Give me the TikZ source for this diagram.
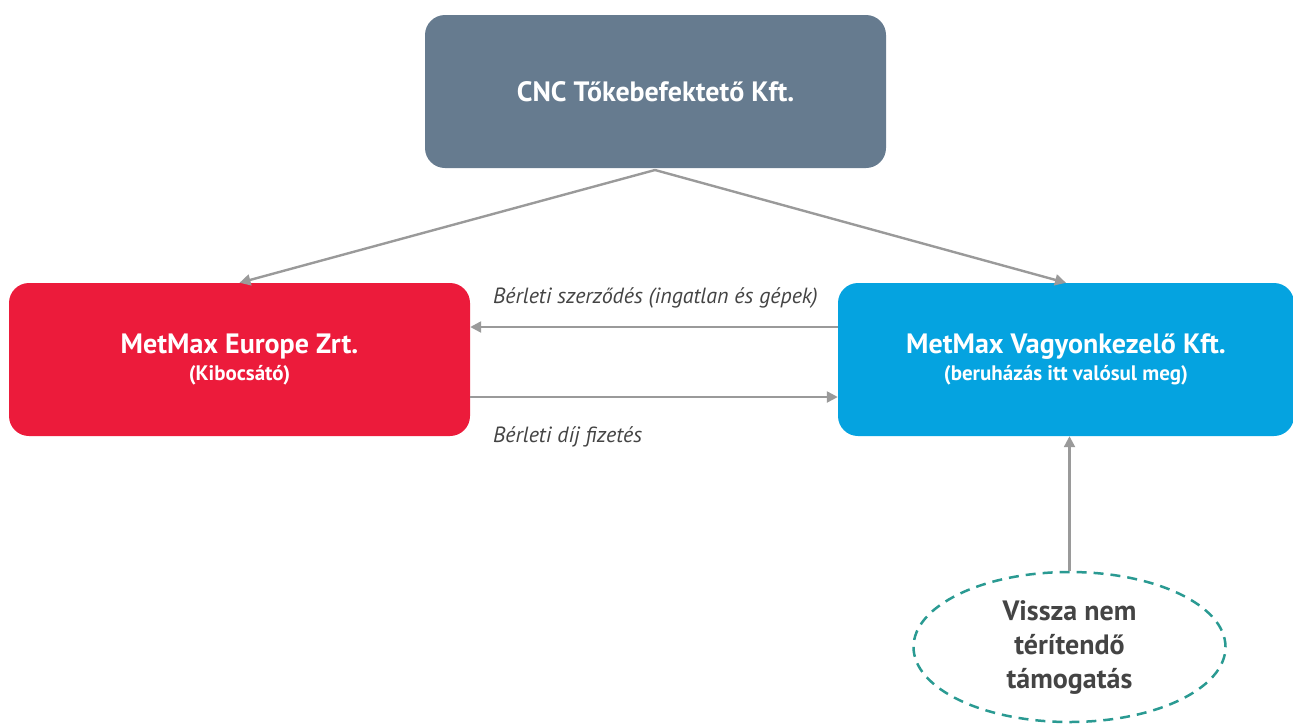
\documentclass[tikz,border=0pt]{standalone}
\usepackage{fontspec}
\setmainfont{PT Sans}
\usetikzlibrary{shapes.geometric,arrows.meta}
\definecolor{slate}{HTML}{667B8F}
\definecolor{mred}{HTML}{EC1B3B}
\definecolor{mblue}{HTML}{05A3E0}
\definecolor{teal}{HTML}{2A9A92}
\definecolor{arrowgray}{HTML}{9A9A9A}
\definecolor{txtgray}{HTML}{444444}
\tikzset{
  box/.style={rounded corners=20pt, inner sep=0pt, text=white, align=center},
  conn/.style={draw=arrowgray, line width=2.4pt, -{Triangle[length=11pt,width=11pt]}},
  lbl/.style={anchor=west, text=txtgray, font=\fontsize{22}{26}\selectfont\itshape, inner sep=0pt},
}
\newcommand{\boxtitle}{\fontsize{28}{30}\selectfont\bfseries}
\newcommand{\boxsub}{\fontsize{21}{28}\selectfont\bfseries}
\begin{document}
\begin{tikzpicture}[x=1pt,y=-1pt]
\useasboundingbox (0,0) rectangle (1293,724);
\node[box, fill=slate, minimum width=461pt, minimum height=153pt] (cnc) at (655.5,91.5)
  {\boxtitle CNC Tőkebefektető Kft.};
\node[box, fill=mred, minimum width=461pt, minimum height=153pt] (eur) at (239.5,359.5)
  {\boxtitle MetMax Europe Zrt.\\[5pt]\boxsub (Kibocsátó)};
\node[box, fill=mblue, minimum width=456pt, minimum height=153pt] (vag) at (1066,359.5)
  {\boxtitle MetMax Vagyonkezelő Kft.\\[5pt]\boxsub (beruházás itt valósul meg)};
\node[ellipse, draw=teal, dashed, dash pattern=on 10pt off 7pt, line width=2.5pt, minimum width=312pt, minimum height=150pt, align=center, text=txtgray, font=\fontsize{28}{34}\selectfont\bfseries] (tam) at (1069.5,647)
  {Vissza nem\\térítendő\\támogatás};
\coordinate (top) at (655,170);
\draw[conn] (top) -- (eur.north);
\draw[conn] (top) -- (vag.north);
\draw[conn] (vag.west |- 0,327) -- (eur.east |- 0,327);
\draw[conn] (eur.east |- 0,397) -- (vag.west |- 0,397);
\draw[conn] (tam.north) -- (vag.south -| tam.north);
\node[lbl] (l1) at (493,298) {Bérleti szerződés (ingatlan és gépek)};
\node[lbl] (l2) at (493,437) {Bérleti díj fizetés};
\end{tikzpicture}
\end{document}
